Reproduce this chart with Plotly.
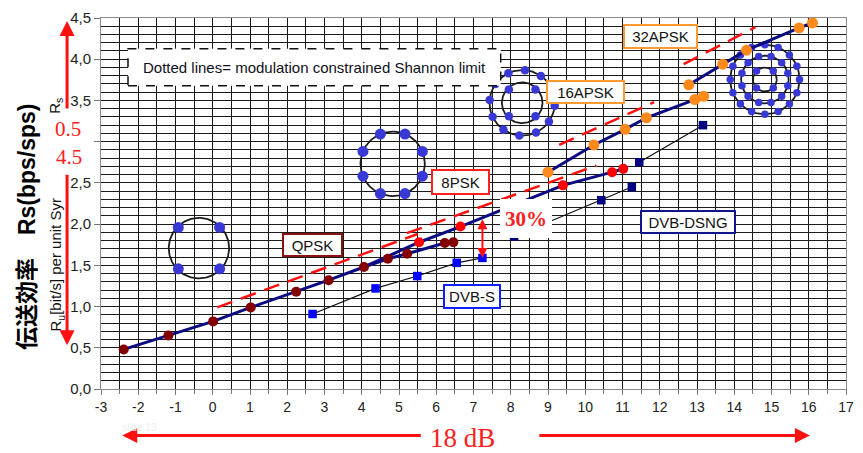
import numpy as np
import plotly.graph_objects as go

# ---- data: x = Es/N0 [dB], y = spectral efficiency ----
qpsk_x = [-2.39, -1.19, 0.01, 1.02, 2.24, 3.11, 4.06, 4.70, 5.22, 6.23, 6.46]
qpsk_y = [0.48, 0.65, 0.82, 0.99, 1.18, 1.32, 1.48, 1.58, 1.64, 1.77, 1.78]
psk8_x = [5.54, 6.65, 9.40, 10.72, 11.02]
psk8_y = [1.78, 1.97, 2.47, 2.63, 2.67]
apsk16_x = [9.00, 10.23, 11.07, 11.64, 12.94, 13.18]
apsk16_y = [2.63, 2.96, 3.15, 3.29, 3.51, 3.55]
apsk32_x = [12.78, 13.69, 14.33, 15.74, 16.10]
apsk32_y = [3.69, 3.94, 4.11, 4.38, 4.44]
dvbs_x = [2.68, 4.37, 5.49, 6.55, 7.24]
dvbs_y = [0.91, 1.22, 1.37, 1.53, 1.59]
dsng8_x = [8.09, 10.43, 11.25]
dsng8_y = [1.85, 2.29, 2.45]
dsng16_x = [11.45, 13.16]
dsng16_y = [2.75, 3.20]

# modulation constrained Shannon limits (segment end points)
lim_qpsk_x, lim_qpsk_y = [0.12, 5.50], [0.99, 1.88]
lim_8psk_x, lim_8psk_y = [5.21, 10.30], [1.89, 2.71]
lim_16apsk_x, lim_16apsk_y = [9.30, 11.85], [2.96, 3.48]
lim_32apsk_x, lim_32apsk_y = [12.64, 14.57], [3.94, 4.39]

x_ticks = list(range(-3, 18))
y_ticks = [0.0, 0.5, 1.0, 1.5, 2.0, 2.5, 3.0, 3.5, 4.0, 4.5]
y_ticktext = ["0,0", "0,5", "1,0", "1,5", "2,0", "2,5", "", "3,5", "4,0", "4,5"]

# ---- page geometry ----
W, H = 863, 453
ML, MR, MT, MB = 101, 9, 15, 64
PW, PH = W - ML - MR, H - MT - MB
XR, YR = (-3, 17), (0, 4.5)
SX = PW / (XR[1] - XR[0])
SY = PH / (YR[1] - YR[0])


def dx(px):
    return XR[0] + (np.asarray(px) - ML) / SX


def dy(py):
    return YR[0] + (H - MB - np.asarray(py)) / SY


def paper_x(px):
    return (px - ML) / PW


def paper_y(py):
    return (H - MB - py) / PH


NAVY = "#0b0b82"
DOT = "#3838d4"
SANS = "Liberation Sans, Arial, sans-serif"
SERIF = "Liberation Serif, Times New Roman, serif"

fig = go.Figure()

# ---- constellation icons ----
icons = [
    dict(c=(200.0, 247.0), circles=[30.5], rings=[(4, 29.5, 45)], dot=11),
    dict(c=(395.8, 162.0), circles=[32.5], rings=[(8, 32.5, 22.5)], dot=11),
    dict(c=(526.7, 100.5), circles=[20.5, 33.0], rings=[(4, 19.0, 45), (12, 33.0, -5)], dot=8.5),
    dict(c=(772.0, 77.0), circles=[12.0, 24.0, 35.0],
         rings=[(4, 12.0, 45), (12, 24.0, 15), (16, 35.0, 0)], dot=7.5),
]
for ic in icons:
    cx, cy = ic["c"]
    t = np.linspace(0, 2 * np.pi, 121)
    for r in ic["circles"]:
        fig.add_trace(go.Scatter(x=dx(cx + r * np.cos(t)), y=dy(cy - r * np.sin(t)),
                                 mode="lines", line=dict(color="#1c1c1c", width=1.8),
                                 hoverinfo="skip", showlegend=False))
    for n, r, a0 in ic["rings"]:
        a = np.deg2rad(a0 + 360.0 / n * np.arange(n))
        fig.add_trace(go.Scatter(x=dx(cx + r * np.cos(a)), y=dy(cy - r * np.sin(a)),
                                 mode="markers", marker=dict(color=DOT, size=ic["dot"]),
                                 hoverinfo="skip", showlegend=False))

# ---- Shannon limits (dashed) ----
for lx, ly in [(lim_qpsk_x, lim_qpsk_y), (lim_8psk_x, lim_8psk_y),
               (lim_16apsk_x, lim_16apsk_y), (lim_32apsk_x, lim_32apsk_y)]:
    fig.add_trace(go.Scatter(x=lx, y=ly, mode="lines",
                             line=dict(color="#ff1010", width=2.5, dash="16px,9px"),
                             showlegend=False))

# ---- DVB-S / DVB-DSNG ----
fig.add_trace(go.Scatter(x=dvbs_x, y=dvbs_y, mode="lines+markers",
                         line=dict(color="#111111", width=1.2),
                         marker=dict(symbol="square", color="#0000ff", size=8.5),
                         name="DVB-S", showlegend=False))
for sx, sy in [(dsng8_x, dsng8_y), (dsng16_x, dsng16_y)]:
    fig.add_trace(go.Scatter(x=sx, y=sy, mode="lines+markers",
                             line=dict(color="#111111", width=1.2),
                             marker=dict(symbol="square", color="#000080", size=8.5),
                             name="DVB-DSNG", showlegend=False))

# ---- modulation curves ----
psk8_line_x = [qpsk_x[6]] + psk8_x
psk8_line_y = [qpsk_y[6]] + psk8_y
fig.add_trace(go.Scatter(x=psk8_line_x, y=psk8_line_y, mode="lines",
                         line=dict(color=NAVY, width=3), showlegend=False))
for cx_, cy_, col, sz in [(qpsk_x, qpsk_y, "#820000", 10),
                          (psk8_x, psk8_y, "#ff0000", 10),
                          (apsk16_x, apsk16_y, "#ff8a1c", 11),
                          (apsk32_x, apsk32_y, "#ff8a1c", 11)]:
    if cx_ is not psk8_x:
        fig.add_trace(go.Scatter(x=cx_, y=cy_, mode="lines",
                                 line=dict(color=NAVY, width=3), showlegend=False))
    fig.add_trace(go.Scatter(x=cx_, y=cy_, mode="markers",
                             marker=dict(color=col, size=sz), showlegend=False))

# ---- legend-like box (dashed border) ----
box = (128.3, 46.0, 505.0, 83.3)
fig.add_shape(type="rect", xref="x", yref="y",
              x0=float(dx(box[0])), x1=float(dx(box[2])),
              y0=float(dy(box[3])), y1=float(dy(box[1])),
              line=dict(color="#111111", width=1.5, dash="dash"),
              fillcolor="white", layer="above")

annotations = [
    dict(x=float(dx(316.7)), y=float(dy(64.5)), text="Dotted lines= modulation constrained Shannon limit",
         font=dict(family=SANS, size=15, color="#101020"), showarrow=False,
         xanchor="center", yanchor="middle"),
]

# ---- labelled boxes ----
labels = [
    ("QPSK", 314.7, 243.9, 61, 24, "#8b1010"),
    ("8PSK", 464.7, 180.5, 59, 26, "#ff2020"),
    ("16APSK", 591.2, 89.5, 79, 24, "#ff9a30"),
    ("32APSK", 666.7, 33.3, 75, 25, "#ff9a30"),
    ("DVB-S", 475.8, 295.7, 58, 25, "#1020ff"),
    ("DVB-DSNG", 694.2, 220.5, 96, 24, "#14148a"),
]
for txt, px, py, w, h, bc in labels:
    annotations.append(dict(x=float(dx(px)), y=float(dy(py)), text=txt, showarrow=False,
                            font=dict(family=SANS, size=15, color="#111111"),
                            bgcolor="white", bordercolor=bc, borderwidth=2, borderpad=0,
                            width=w - 4, height=h - 4, xanchor="center", yanchor="middle"))

# 30% gap marker
annotations.append(dict(x=float(dx(531)), y=float(dy(217.5)), text="<b>30%</b>", showarrow=False,
                        font=dict(family=SERIF, size=21, color="#ff2020"),
                        bgcolor="white", borderwidth=0, borderpad=0, width=52, height=39,
                        xanchor="center", yanchor="middle"))
gap_x = dvbs_x[-1]
gap_top = float(np.interp(gap_x, psk8_line_x, psk8_line_y))
annotations.append(dict(x=gap_x, y=dvbs_y[-1], ax=gap_x, ay=gap_top, xref="x", yref="y",
                        axref="x", ayref="y", text="", showarrow=True, arrowside="end+start",
                        arrowhead=2, arrowsize=1, arrowwidth=2, arrowcolor="#ff1010"))


def side_text(px, py, text, font, angle=0):
    return dict(xref="paper", yref="paper", x=paper_x(px), y=paper_y(py), text=text,
                showarrow=False, textangle=angle, font=font,
                xanchor="center", yanchor="middle")


def side_arrow(px, py, ax, ay):
    return dict(xref="paper", yref="paper", x=paper_x(px), y=paper_y(py), ax=ax, ay=ay,
                text="", showarrow=True, arrowhead=2, arrowsize=1, arrowwidth=3,
                arrowcolor="#ff1010", xanchor="center", yanchor="middle")


# ---- side titles and arrows ----
annotations += [
    side_text(27, 225, "<b>伝送効率　Rs(bps/sps)</b>",
              dict(family="Liberation Sans, Noto Sans CJK JP", size=23, color="#000000"), -90),
    side_text(56, 264, "R<sub>u</sub>[bit/s] per unit Syr",
              dict(family=SANS, size=15, color="#111111"), -90),
    side_text(55, 103, "R<sub>s</sub>", dict(family=SANS, size=15, color="#111111"), -90),
    side_text(68, 127, "0.5", dict(family=SERIF, size=21, color="#ff2020")),
    side_text(69, 155, "4.5", dict(family=SERIF, size=21, color="#ff2020")),
    side_arrow(66.7, 18, 0, 89),
    side_arrow(66.7, 345, 0, -172),
    side_text(466, 438, "18 dB", dict(family=SERIF, size=27, color="#ff2020")),
    side_arrow(122.5, 436, 300, 0),
    side_arrow(817.5, 436, -272, 0),
    side_text(140, 428, "slide 13", dict(family=SANS, size=10, color="#eeeeee")),
]

grid = dict(showgrid=True, gridcolor="#1a1a1a", gridwidth=1.3)
fig.update_layout(
    width=W, height=H,
    margin=dict(l=ML, r=MR, t=MT, b=MB, pad=0),
    paper_bgcolor="white", plot_bgcolor="white",
    showlegend=False,
    annotations=annotations,
    xaxis=dict(range=list(XR), tickvals=x_ticks, ticktext=[str(v) for v in x_ticks],
               ticks="outside", ticklen=5, tickcolor="#777777", zeroline=False,
               showline=True, linecolor="#8c8c8c", linewidth=1, mirror=True,
               tickfont=dict(family=SANS, size=14, color="#222222"),
               minor=dict(dtick=0.5, showgrid=True, gridcolor="#1a1a1a", gridwidth=1.3,
                          ticks="outside", ticklen=4, tickcolor="#777777"),
               **grid),
    yaxis=dict(range=list(YR), tickvals=y_ticks, ticktext=y_ticktext,
               ticks="outside", ticklen=6, tickcolor="#777777", zeroline=False,
               showline=True, linecolor="#8c8c8c", linewidth=1, mirror=True,
               tickfont=dict(family=SANS, size=15, color="#222222"),
               minor=dict(dtick=0.1, showgrid=True, gridcolor="#1a1a1a", gridwidth=1.3),
               **grid),
)

fig.write_html("out.html")
